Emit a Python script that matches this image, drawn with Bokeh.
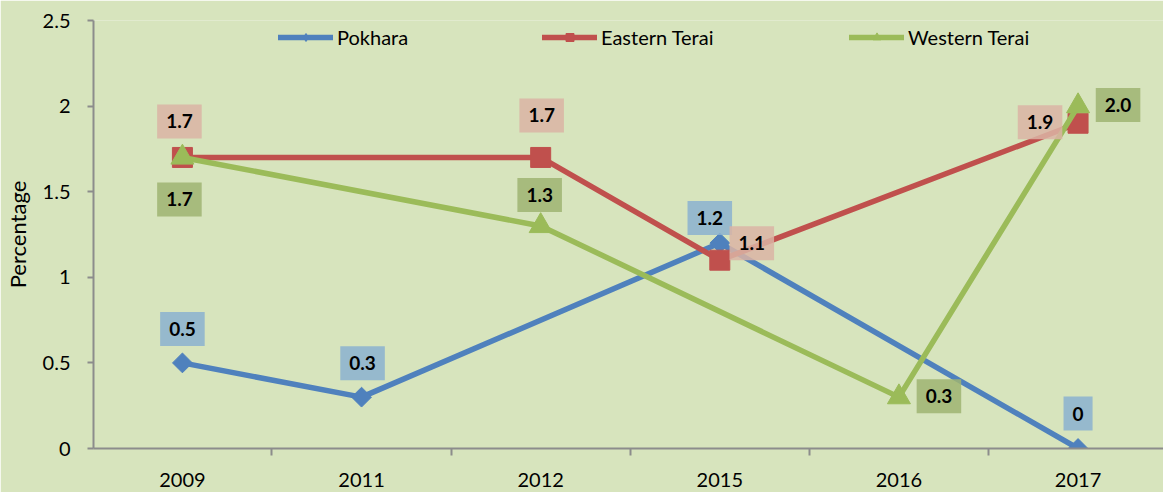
import math
from bokeh.plotting import figure
from bokeh.models import Range1d, FixedTicker, ColumnDataSource, Legend, LegendItem
from bokeh.core.properties import value
from bokeh.embed import file_html
from bokeh.resources import INLINE

# ---------------- data ----------------
years = ["2009", "2011", "2012", "2015", "2016", "2017"]
pokhara = [0.5, 0.3, None, 1.2, None, 0.0]
eastern = [1.7, None, 1.7, 1.1, None, 1.9]
western = [1.7, None, 1.3, None, 0.3, 2.0]
pokhara_labels = ["0.5", "0.3", None, "1.2", None, "0"]
eastern_labels = ["1.7", None, "1.7", "1.1", None, "1.9"]
western_labels = ["1.7", None, "1.3", None, "0.3", "2.0"]
y_ticks = [0, 0.5, 1, 1.5, 2, 2.5]
y_tick_labels = ["0", "0.5", "1", "1.5", "2", "2.5"]

# label placement offsets (screen px, style only)
pok_off = [(0, -34), (1, -34), None, (-10, -25), None, (0, -35)]
eas_off = [(-3, -36), None, (1, -42), (32, -17), None, (-38, -1)]
wes_off = [(-3, 42), None, (-1, -31), None, (40, -1), (40, -1)]

BG = "#D7E4BD"
AXIS = "#8C8C8C"
FONT = "Lato"
NAN = float("nan")

p = figure(width=1163, height=492, output_backend="svg", toolbar_location=None,
           x_range=Range1d(-0.4964, 5.477), y_range=Range1d(0, 2.5),
           min_border_left=92, min_border_right=0, min_border_top=20, min_border_bottom=44,
           background_fill_color=BG, border_fill_color=BG, outline_line_color=None)
p.xgrid.visible = False
p.ygrid.visible = False

# x axis
xa = p.xaxis[0]
xa.ticker = FixedTicker(ticks=list(range(len(years))),
                        minor_ticks=[i - 0.5 for i in range(len(years) + 1)])
xa.major_label_overrides = {i: y for i, y in enumerate(years)}
xa.major_tick_out = 0
xa.major_tick_in = 0
xa.minor_tick_out = 7
xa.minor_tick_in = 0
xa.minor_tick_line_color = AXIS
xa.minor_tick_line_width = 2
xa.axis_line_color = AXIS
xa.axis_line_width = 2
xa.major_label_text_font = FONT
xa.major_label_text_font_size = "20px"
xa.major_label_text_color = "black"
xa.major_label_standoff = 17

# y axis
ya = p.yaxis[0]
ya.ticker = FixedTicker(ticks=y_ticks, minor_ticks=[])
ya.major_label_overrides = {t: l for t, l in zip(y_ticks, y_tick_labels)}
ya.major_tick_out = 6
ya.major_tick_in = 0
ya.major_tick_line_color = AXIS
ya.major_tick_line_width = 2
ya.minor_tick_line_color = None
ya.axis_line_color = AXIS
ya.axis_line_width = 2
ya.major_label_text_font = FONT
ya.major_label_text_font_size = "20px"
ya.major_label_text_color = "black"
ya.major_label_standoff = 17
ya.axis_label = "Percentage"
ya.axis_label_text_font = FONT
ya.axis_label_text_font_size = "22px"
ya.axis_label_text_font_style = "normal"
ya.axis_label_text_color = "black"
ya.axis_label_standoff = 9

# name, values, labels, offsets, colour, marker, angle, size, legend marker, legend size, label box
series = [
    ("Pokhara", pokhara, pokhara_labels, pok_off, "#4F81BD", "square", math.pi / 4, 14,
     "diamond", 13, "#8BB1D0"),
    ("Eastern Terai", eastern, eastern_labels, eas_off, "#C0504D", "square", 0, 20,
     "square", 12, "#DBB4A4"),
    ("Western Terai", western, western_labels, wes_off, "#9BBB59", "triangle", 0, 23,
     "triangle", 14, "#9FB472"),
]

legend_x = [185, 449, 756]
for k, (name, vals, labs, offs, color, marker, ang, msize, lmarker, lsize, boxc) in enumerate(series):
    xs = [i for i, v in enumerate(vals) if v is not None]
    ys = [v for v in vals if v is not None]
    src = ColumnDataSource(dict(x=xs, y=ys))
    p.line("x", "y", source=src, line_color=color, line_width=5.5, line_join="round")
    p.scatter("x", "y", source=src, marker=marker, angle=ang, size=msize,
              fill_color=color, line_color=color)
    # legend-only renderers (nothing visible on the plot)
    lr = p.line(x=[NAN], y=[NAN], line_color=color, line_width=5.5, line_cap="round")
    ls = p.scatter(x=[NAN], y=[NAN], marker=lmarker, size=lsize,
                   fill_color=color, line_color=color)
    leg = Legend(items=[LegendItem(label=name, renderers=[lr, ls])],
                 location=(legend_x[k], 399), orientation="horizontal",
                 glyph_width=55, glyph_height=20, label_height=20, label_standoff=4,
                 padding=0, margin=0, spacing=0,
                 border_line_color=None, background_fill_alpha=0,
                 label_text_font=FONT, label_text_font_size="20px", label_text_color="black")
    p.add_layout(leg)

# data labels
for (name, vals, labs, offs, color, marker, ang, msize, lmarker, lsize, boxc) in series:
    idx = [i for i, v in enumerate(vals) if v is not None]
    lsrc = ColumnDataSource(dict(
        x=idx, y=[vals[i] for i in idx], text=[labs[i] for i in idx],
        dx=[offs[i][0] for i in idx], dy=[offs[i][1] for i in idx]))
    p.text("x", "y", text="text", source=lsrc, x_offset="dx", y_offset="dy",
           text_align="center", text_baseline="middle",
           text_font=value(FONT), text_font_style="bold", text_font_size="19px",
           text_color="black",
           background_fill_color=boxc, background_fill_alpha=0.85,
           padding=dict(left=9, right=9, top=10, bottom=10))

open("out.html", "w").write(file_html(p, INLINE))
